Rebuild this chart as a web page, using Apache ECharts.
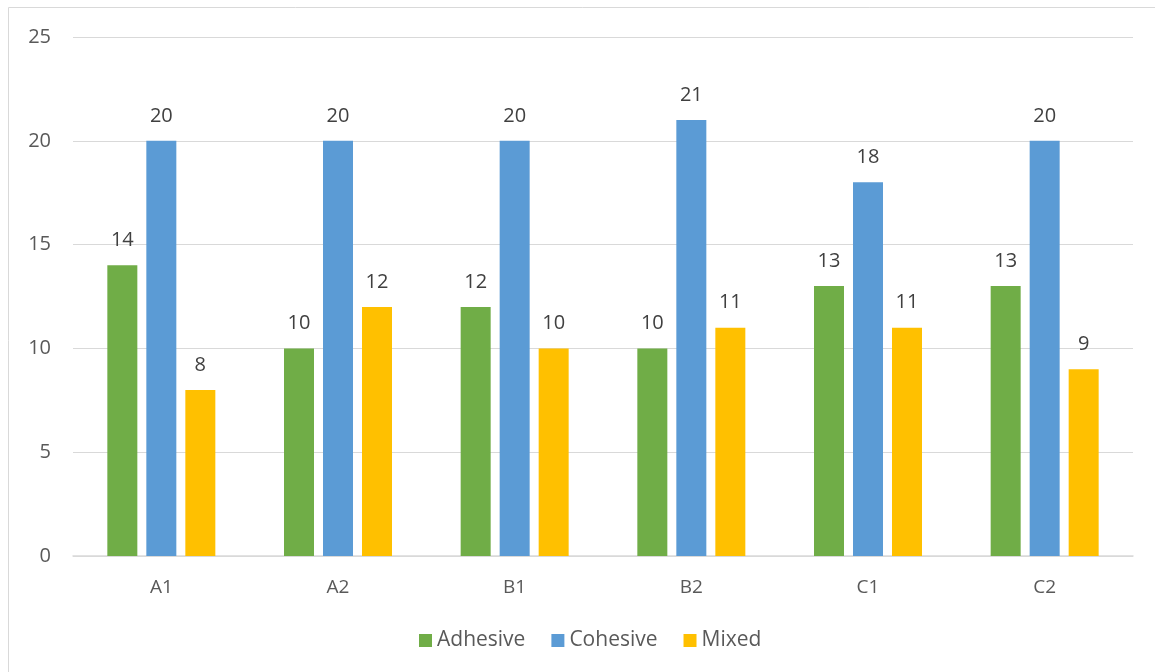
<!DOCTYPE html>
<html>
<head>
<meta charset="utf-8">
<script src="https://cdn.jsdelivr.net/npm/echarts@6/dist/echarts.min.js"></script>
<style>html,body{margin:0;padding:0;background:#fff;}#c{width:1155px;height:672px;}</style>
</head>
<body>
<div id="c"></div>
<script>
const categories = ['A1','A2','B1','B2','C1','C2'];
const adhesive = [14,10,12,10,13,13];
const cohesive = [20,20,20,21,18,20];
const mixed = [8,12,10,11,11,9];
const yTicks = {min:0, max:25, interval:5};

const font = '"Open Sans", "Liberation Sans", sans-serif';
const chart = echarts.init(document.getElementById('c'));
const labelCfg = {show:true, position:'top', distance:15, color:'#404040', fontSize:20, fontFamily:font};
function bar(name, data, color){
  return {name, type:'bar', data, barWidth:30, barGap:'30%', itemStyle:{color}, label:labelCfg};
}
chart.setOption({
  animation:false,
  graphic:[{type:'rect', shape:{x:8.5,y:7.5,width:1170,height:700}, style:{fill:'none', stroke:'#d9d9d9', lineWidth:1}}],
  grid:{left:73, right:22, top:37, bottom:116},
  legend:{bottom:16, left:414, itemWidth:13, itemHeight:13, itemGap:26, icon:'rect',
    textStyle:{color:'#595959', fontSize:21, fontFamily:font}},
  xAxis:{type:'category', data:categories,
    axisLine:{lineStyle:{color:'#d9d9d9', width:1.5}}, axisTick:{show:false},
    axisLabel:{color:'#595959', fontSize:19, fontFamily:font, margin:22}},
  yAxis:{type:'value', min:yTicks.min, max:yTicks.max, interval:yTicks.interval,
    axisLine:{show:false}, axisTick:{show:false},
    splitLine:{lineStyle:{color:'#d9d9d9', width:1}},
    axisLabel:{color:'#595959', fontSize:20, fontFamily:font, margin:22}},
  series:[bar('Adhesive', adhesive, '#70ad47'), bar('Cohesive', cohesive, '#5b9bd5'), bar('Mixed', mixed, '#ffc000')]
});
</script>
</body>
</html>
